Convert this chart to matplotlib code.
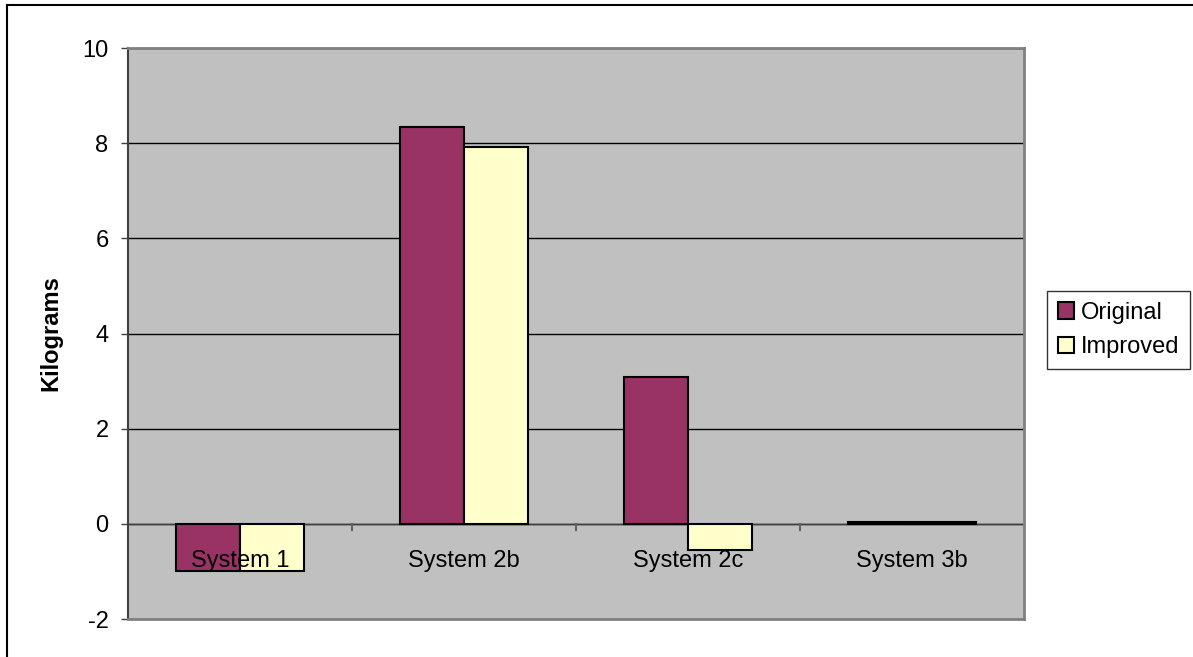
import numpy as np
import matplotlib.pyplot as plt
from matplotlib.lines import Line2D

systems = ["System 1", "System 2b", "System 2c", "System 3b"]
original = [-0.99, 8.35, 3.09, 0.04]
improved = [-0.99, 7.92, -0.56, 0.04]

plt.rcParams["font.family"] = ["Liberation Sans", "DejaVu Sans"]
plt.rcParams["axes.unicode_minus"] = False

fig = plt.figure(figsize=(11.93, 6.57), dpi=100)
ax = fig.add_axes([128 / 1193, 1 - 619 / 657, (1024 - 128) / 1193, (619 - 48) / 657])
ax.set_facecolor("#c0c0c0")

x = np.arange(len(systems))
w = 64 / 224
ax.bar(x - w / 2, original, w, color="#993366", edgecolor="black", linewidth=1.5, label="Original", zorder=3)
ax.bar(x + w / 2, improved, w, color="#ffffcc", edgecolor="black", linewidth=1.5, label="Improved", zorder=3)

ax.set_xlim(-0.5, len(systems) - 0.5)
ax.set_ylim(-2, 10)
ax.set_yticks(range(-2, 11, 2))
ax.tick_params(axis="y", labelsize=17, length=5, width=1, color="#404040", pad=9)
ax.yaxis.grid(True, color="black", linewidth=1)
ax.set_axisbelow(True)

# category axis sits on the zero line
ax.set_xticks([])
ax.axhline(0, color="#404040", linewidth=1, zorder=2)
for b in np.arange(0.5, len(systems) - 0.5):
    ax.plot([b, b], [0, -0.12], color="#606060", linewidth=1.5, zorder=2)
for i, s in enumerate(systems):
    ax.text(i, -0.78, s, ha="center", va="center", fontsize=17, zorder=4)

for side in ["top", "right", "bottom"]:
    ax.spines[side].set_color("#808080")
    ax.spines[side].set_linewidth(2)
ax.spines["left"].set_color("#404040")
ax.spines["left"].set_linewidth(1.5)

ax.set_ylabel("Kilograms", fontsize=17, fontweight="bold")
ax.yaxis.set_label_coords(-0.073, 0.5)

leg = fig.legend(loc="center left", bbox_to_anchor=(1047 / 1193, 1 - 330 / 657), fontsize=17,
                 frameon=True, fancybox=False, edgecolor="black", handlelength=0.7, handleheight=0.7,
                 handletextpad=0.3, borderaxespad=0, borderpad=0.45, labelspacing=0.55)
leg.get_frame().set_linewidth(1)

# outer chart border (left and top only visible)
fig.add_artist(Line2D([7 / 1193, 7 / 1193], [0, 1 - 5 / 657], transform=fig.transFigure, color="black", linewidth=1.5))
fig.add_artist(Line2D([7 / 1193, 1], [1 - 5 / 657, 1 - 5 / 657], transform=fig.transFigure, color="black", linewidth=1.5))

fig.savefig("out.png", dpi=100)
